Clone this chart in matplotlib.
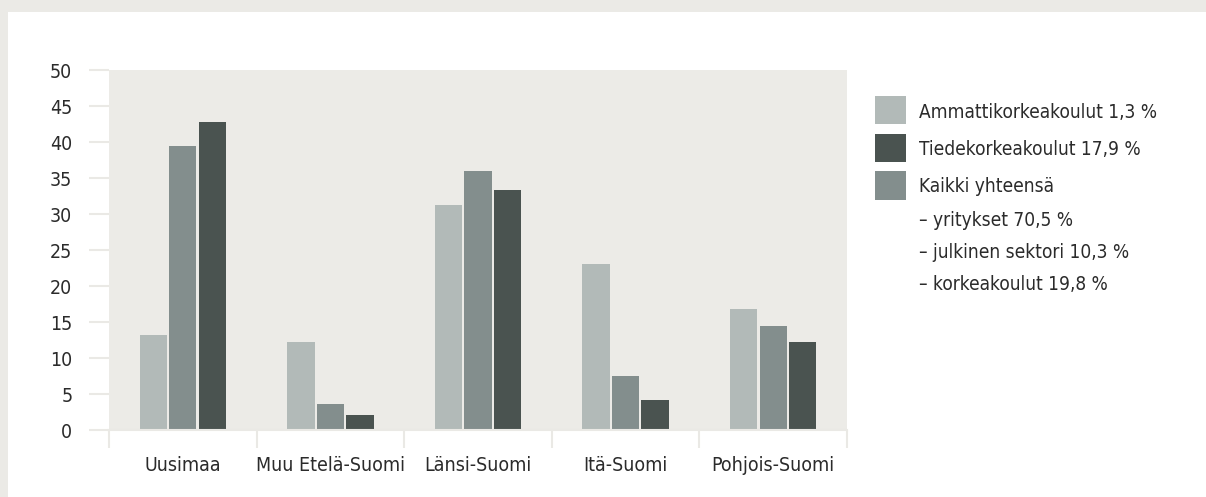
import matplotlib.pyplot as plt
from matplotlib.patches import Rectangle

plt.rcParams['font.family'] = ['DejaVu Sans']
plt.rcParams['font.stretch'] = 'condensed'

# data
regions = ["Uusimaa", "Muu Etelä-Suomi", "Länsi-Suomi", "Itä-Suomi", "Pohjois-Suomi"]
amk = [13.2, 12.2, 31.2, 23.1, 16.8]
kaikki = [39.4, 3.6, 36.0, 7.5, 14.4]
tiede = [42.8, 2.1, 33.3, 4.2, 12.2]

legend_rows = ["Ammattikorkeakoulut 1,3 %", "Tiedekorkeakoulut 17,9 %", "Kaikki yhteensä",
               "– yritykset 70,5 %", "– julkinen sektori 10,3 %", "– korkeakoulut 19,8 %"]

c_light = "#b2bab8"
c_mid = "#838e8d"
c_dark = "#4a5350"
c_bg = "#ecebe7"
c_line = "#eae9e5"
c_text = "#2b2b2b"

W, H = 1206, 497
fig = plt.figure(figsize=(W / 100, H / 100), dpi=100)
fig.patch.set_facecolor("#ebeae6")
fig.patches.append(Rectangle((8 / W, 0), 1, 1 - 12 / H, transform=fig.transFigure,
                             facecolor="white", edgecolor="none", zorder=-5))

ax = fig.add_axes([109 / W, 1 - 430 / H, (847 - 109) / W, 360 / H])
ax.set_facecolor(c_bg)

x = list(range(len(regions)))
bw = 0.185
ax.bar([i - 0.2 for i in x], amk, width=bw, color=c_light, zorder=2)
ax.bar(x, kaikki, width=bw, color=c_mid, zorder=2)
ax.bar([i + 0.2 for i in x], tiede, width=bw, color=c_dark, zorder=2)

ax.set_xlim(-0.5, len(regions) - 0.5)
ax.set_ylim(0, 50)
ax.set_yticks(range(0, 51, 5))
ax.tick_params(axis="y", direction="out", length=14.4, width=1.5, color=c_line,
               labelsize=14, labelcolor=c_text, pad=12)

ax.set_xticks(x)
ax.set_xticklabels(regions)
ax.set_xticks([i - 0.5 for i in range(len(regions) + 1)], minor=True)
ax.tick_params(axis="x", which="major", length=0, labelsize=14, labelcolor=c_text, pad=19)
ax.tick_params(axis="x", which="minor", direction="out", length=13, width=1.5, color=c_line)

for s in ["top", "right", "left"]:
    ax.spines[s].set_visible(False)
ax.spines["bottom"].set_color(c_line)
ax.spines["bottom"].set_linewidth(1.5)

# legend drawn by hand
swatches = [c_light, c_dark, c_mid]
swatch_y = [110, 148, 185.5]
row_y = [112, 149, 187, 220, 252, 285]
for i, label in enumerate(legend_rows):
    if i < 3:
        fig.patches.append(Rectangle((875 / W, 1 - (swatch_y[i] + 14) / H), 31 / W, 28 / H,
                                     transform=fig.transFigure, facecolor=swatches[i],
                                     edgecolor="none"))
    fig.text(919 / W, 1 - row_y[i] / H, label, fontsize=13.7, color=c_text,
             va="center", ha="left")

fig.savefig("out.png", dpi=100, facecolor=fig.get_facecolor())
